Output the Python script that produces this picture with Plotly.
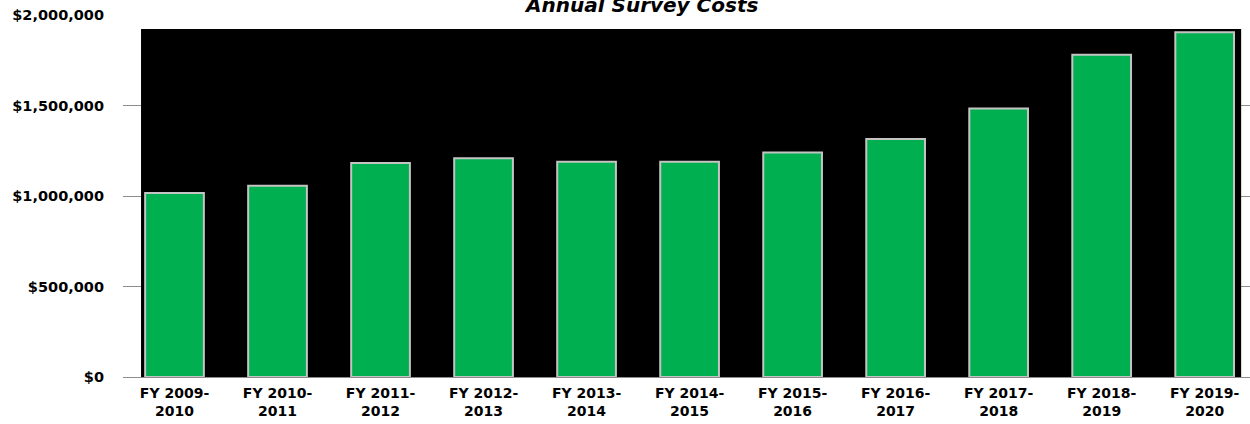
import plotly.graph_objects as go

categories = ["FY 2009-<br>2010", "FY 2010-<br>2011", "FY 2011-<br>2012", "FY 2012-<br>2013",
              "FY 2013-<br>2014", "FY 2014-<br>2015", "FY 2015-<br>2016", "FY 2016-<br>2017",
              "FY 2017-<br>2018", "FY 2018-<br>2019", "FY 2019-<br>2020"]
costs = [1017000, 1057000, 1182000, 1208000, 1189000, 1189000, 1241000, 1315000, 1484000, 1780000, 1905000]
y_ticks = [0, 500000, 1000000, 1500000, 2000000]
y_tick_labels = ["$0", "$500,000", "$1,000,000", "$1,500,000", "$2,000,000"]

FONT = "DejaVu Sans"

fig = go.Figure()
fig.add_trace(go.Bar(
    x=list(range(len(categories))), y=costs,
    width=0.57,
    marker=dict(color="#00b050", line=dict(color="#c4c4c4", width=2)),
))

fig.add_shape(type="rect", xref="x", yref="y", x0=-0.325, x1=10.354, y0=0, y1=1923000,
              fillcolor="black", line=dict(width=0), layer="between")

fig.add_annotation(text="<b><i>Annual Survey Costs</i></b>", xref="paper", yref="paper",
                   x=0.46, y=1, yanchor="bottom", yshift=-4, showarrow=False,
                   font=dict(family=FONT, size=20, color="black"))

fig.update_layout(
    width=1250, height=424,
    margin=dict(l=123, r=0, t=15, b=47),
    plot_bgcolor="white", paper_bgcolor="white",
    showlegend=False,
    font=dict(family=FONT, size=14, color="black"),
    xaxis=dict(
        range=[-0.5, 10.44], tickmode="array", tickvals=list(range(len(categories))),
        ticktext=[f"<b>{c}</b>" for c in categories],
        showgrid=False, showline=True, linecolor="#8c8c8c", linewidth=1,
        ticks="", tickfont=dict(family=FONT, size=14), ticklabelstandoff=3,
    ),
    yaxis=dict(
        range=[0, 2000000], tickmode="array", tickvals=y_ticks,
        ticktext=[f"<b>{t}</b>" for t in y_tick_labels],
        showgrid=True, gridcolor="#8c8c8c", gridwidth=1, zeroline=False,
        ticks="", tickfont=dict(family=FONT, size=14.5), ticklabelstandoff=18,
    ),
)

fig.write_html("out.html")
